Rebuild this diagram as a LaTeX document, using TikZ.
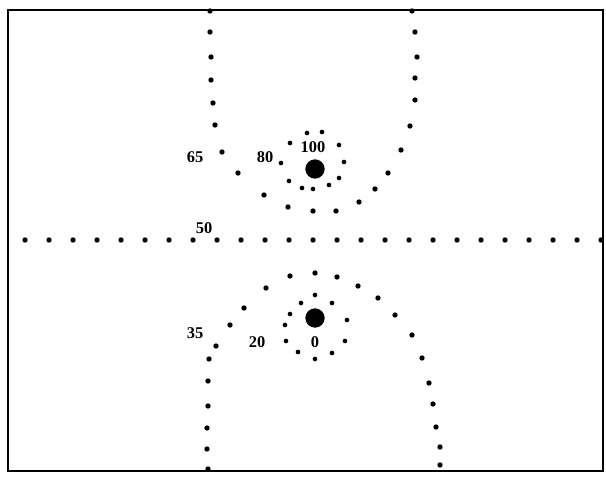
\documentclass[tikz,border=0pt]{standalone}
\usepackage{fontspec}
\setmainfont{Liberation Serif}
\begin{document}
\begin{tikzpicture}[x=0.03cm, y=-0.03cm,
    electrode/.style={circle, fill, inner sep=0pt, minimum size=16.5pt},
    lbl/.style={inner sep=0pt, font=\fontsize{14}{16}\selectfont\bfseries}]
    \useasboundingbox (0, 0) rectangle (606, 477);

    \draw[line width=2.5pt] (8, 10) rectangle (603, 471);

    \node[electrode] (e100) at (315, 169) {};
    \node[electrode] (e0) at (315, 318) {};

    \node[lbl] (l100) at (313, 147) {100};
    \node[lbl] (l80) at (265, 157) {80};
    \node[lbl] (l65) at (195, 157) {65};
    \node[lbl] (l50) at (204, 228) {50};
    \node[lbl] (l35) at (195, 333) {35};
    \node[lbl] (l20) at (257, 342) {20};
    \node[lbl] (l0) at (315, 342) {0};

    % 50
    \foreach \i in {0,...,24}
      \fill (25+24*\i, 240) circle (2.3pt);

    % 80
    \foreach \p in {(307,133), (322,132), (290,143), (339,145), (281,163),
        (344,162), (289,181), (339,178), (302,188), (313,189), (329,185)}
      \fill \p circle (2pt);

    % 65
    \foreach \p in {(210,11), (210,32), (211,57), (211,80), (213,103),
        (215,125), (222,152), (238,173), (264,195), (288,207), (313,211),
        (336,211), (359,202), (375,189), (388,173), (401,150), (410,126),
        (415,100), (415,78), (417,57), (415,32), (412,11)}
      \fill \p circle (2.3pt);

    % 20
    \foreach \p in {(315,295), (301,303), (332,303), (290,314), (347,320),
        (285,325), (286,341), (345,341), (298,352), (315,359), (332,353)}
      \fill \p circle (2pt);

    % 35
    \foreach \p in {(208,469), (207,449), (207,428), (208,406), (208,381),
        (209,359), (216,346), (230,325), (244,308), (266,288), (290,276),
        (315,273), (337,277), (358,286), (378,298), (395,315), (412,335),
        (422,358), (429,383), (433,404), (436,427), (440,447), (440,465)}
      \fill \p circle (2.3pt);
\end{tikzpicture}
\end{document}
